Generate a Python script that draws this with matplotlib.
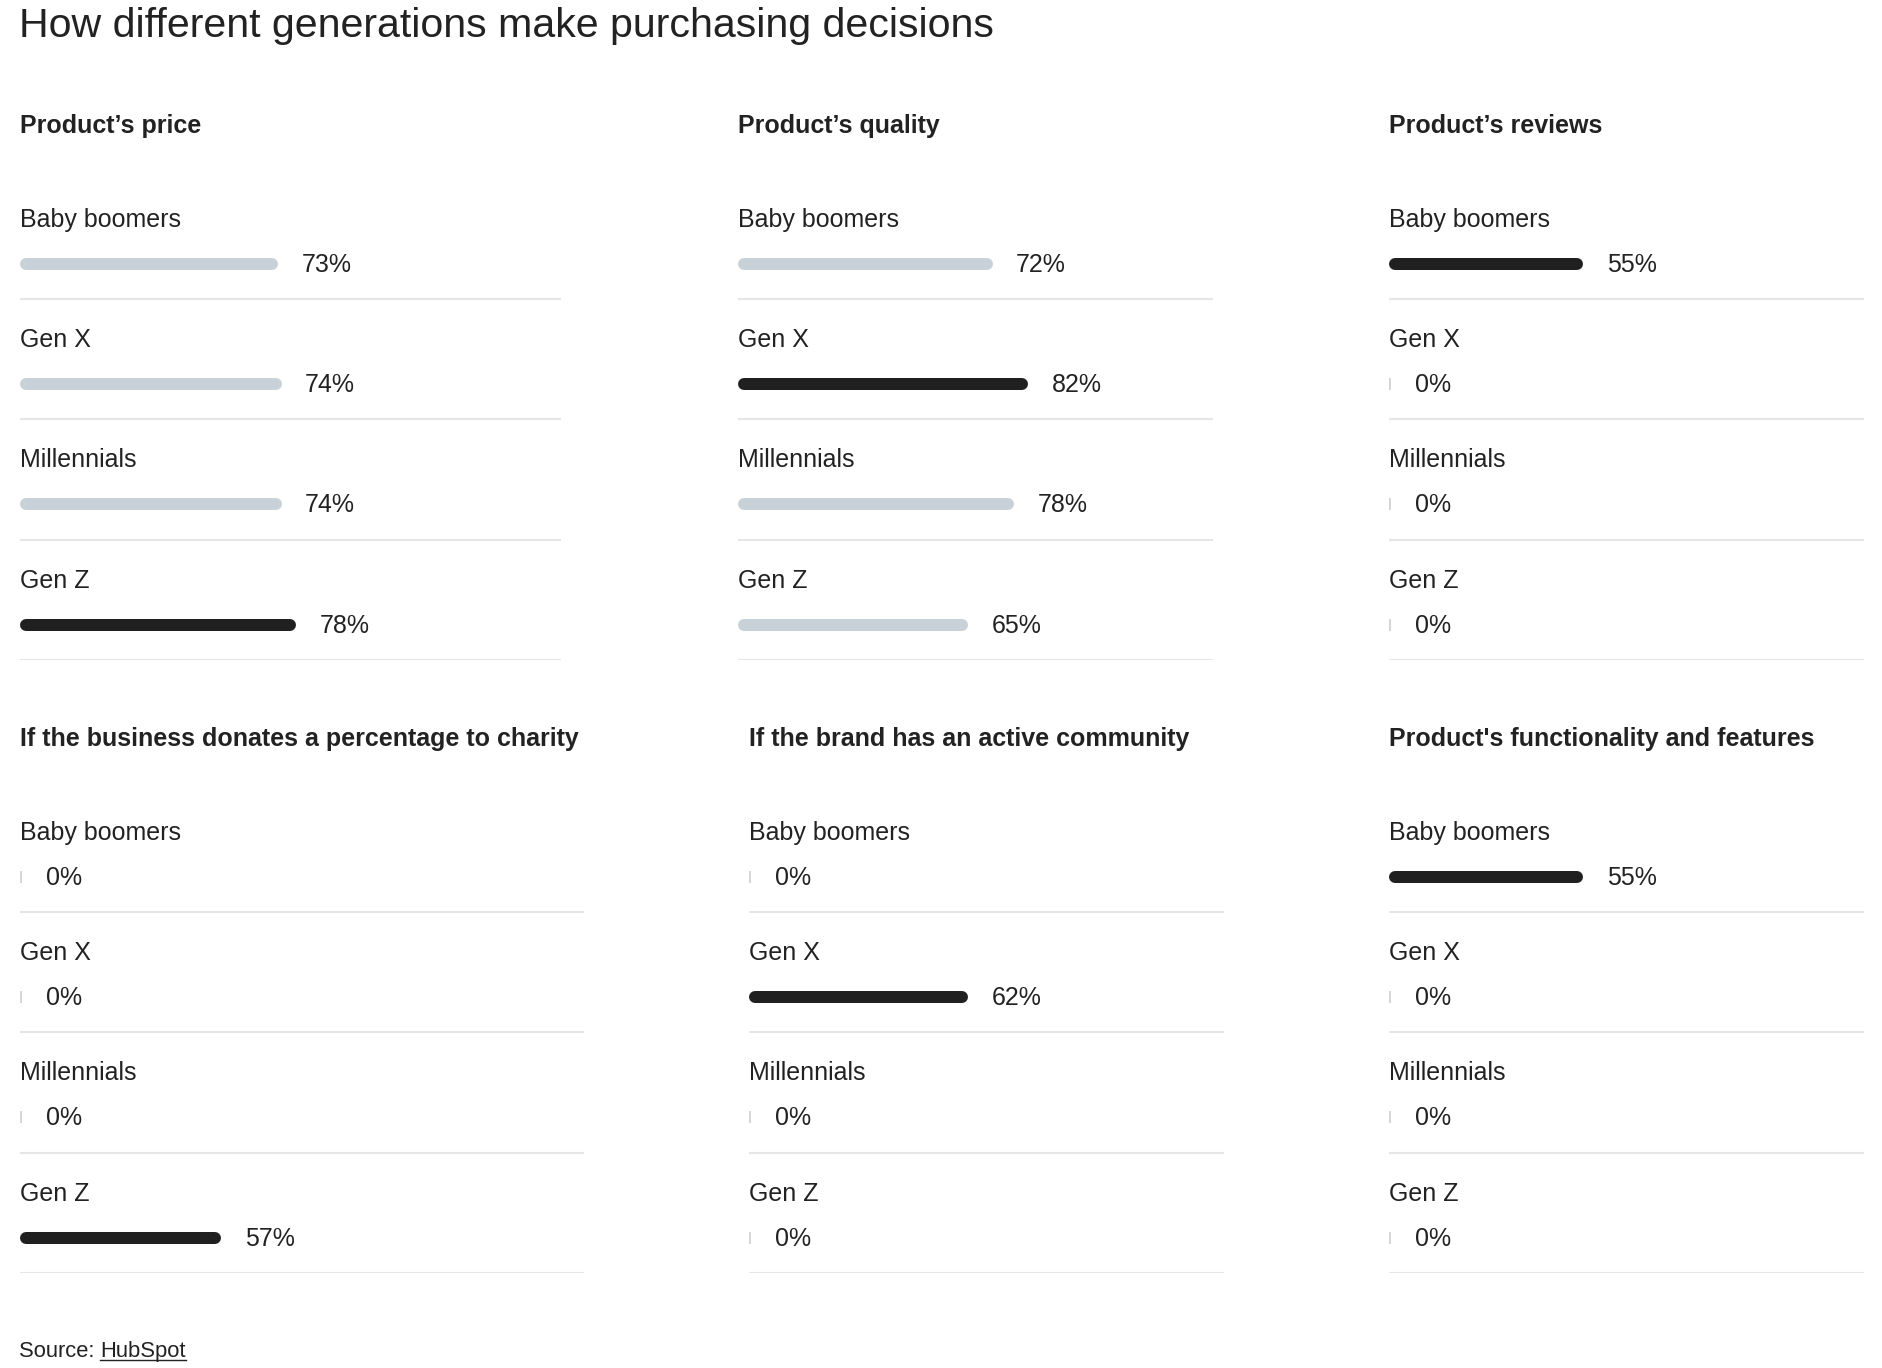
import matplotlib
matplotlib.use("Agg")
import matplotlib.pyplot as plt
from matplotlib.lines import Line2D

plt.rcParams['font.family'] = ['Liberation Sans', 'DejaVu Sans']

# dati
generations = ["Baby boomers", "Gen X", "Millennials", "Gen Z"]
panel_titles = [
    "Product’s price",
    "Product’s quality",
    "Product’s reviews",
    "If the business donates a percentage to charity",
    "If the brand has an active community",
    "Product's functionality and features",
]
price = [73, 74, 74, 78]
quality = [72, 82, 78, 65]
reviews = [55, 0, 0, 0]
charity = [0, 0, 0, 57]
community = [0, 62, 0, 0]
functionality = [55, 0, 0, 0]
panel_values = [price, quality, reviews, charity, community, functionality]

title = "How different generations make purchasing decisions"
source_label = "Source: "
source_name = "HubSpot"

# layout in pixel
W, H = 1883, 1368
PX_PER_PCT = 3.535
ROW_H = 120.2
BAR_H = 12
lefts = [20, 738, 1389, 20, 749, 1389]
widths = [541, 475, 475, 564, 475, 475]
tops = [179, 179, 179, 792, 792, 792]

TEXT = "#222222"
DARK = "#202020"
GREY = "#c8d1d7"
ZERO = "#d6d6d6"
SEP = "#e6e6e6"

fig = plt.figure(figsize=(W / 100, H / 100), dpi=100)
fig.patch.set_facecolor("white")

fig.text(19 / W, 1 - 37 / H, title, fontsize=29.6, color=TEXT,
         ha="left", va="baseline")

for k in range(6):
    vals = panel_values[k]
    ax = fig.add_axes([lefts[k] / W, 1 - (tops[k] + 4 * ROW_H) / H,
                       widths[k] / W, 4 * ROW_H / H])
    ax.set_xlim(0, widths[k] / PX_PER_PCT)
    ax.set_ylim(4, 0)
    ax.axis("off")

    ax.text(0, -0.383, panel_titles[k], fontsize=18, fontweight="bold",
            color=TEXT, ha="left", va="baseline", clip_on=False)

    top_val = max(vals)
    cap = (BAR_H / 2) / PX_PER_PCT
    lw = BAR_H * 0.72
    for i, (g, v) in enumerate(zip(generations, vals)):
        ax.text(0, i + 0.40, g, fontsize=18, color=TEXT,
                ha="left", va="baseline", clip_on=False)
        yb = i + 0.707
        if v > 0:
            col = DARK if v == top_val else GREY
            ax.hlines(yb, cap, v - cap, colors=col, linewidth=lw,
                      capstyle="round")
            end = v
        else:
            ax.barh(yb, 2 / PX_PER_PCT, height=BAR_H / ROW_H, color=ZERO,
                    left=0)
            end = 2 / PX_PER_PCT
        ax.annotate(f"{v}%", xy=(end, i + 0.774), xytext=(17.0, 0),
                    textcoords="offset points", fontsize=18, color=TEXT,
                    ha="left", va="baseline", annotation_clip=False)
        ax.axhline(i + 1, 0, 1, color=SEP, linewidth=1.5)

# fonte con sottolineatura
t1 = fig.text(19 / W, 1 - 1357 / H, source_label, fontsize=15.8, color=TEXT,
              ha="left", va="baseline")
fig.canvas.draw()
r = fig.canvas.get_renderer()
bb1 = t1.get_window_extent(r)
t2 = fig.text(bb1.x1 / W, 1 - 1357 / H, source_name, fontsize=15.8,
              color=TEXT, ha="left", va="baseline")
bb2 = t2.get_window_extent(r)
uy = 1 - 1360 / H
fig.add_artist(Line2D([bb2.x0 / W, bb2.x1 / W], [uy, uy], color=TEXT,
                      linewidth=1.0))

fig.savefig("out.png", dpi=100, facecolor="white")
